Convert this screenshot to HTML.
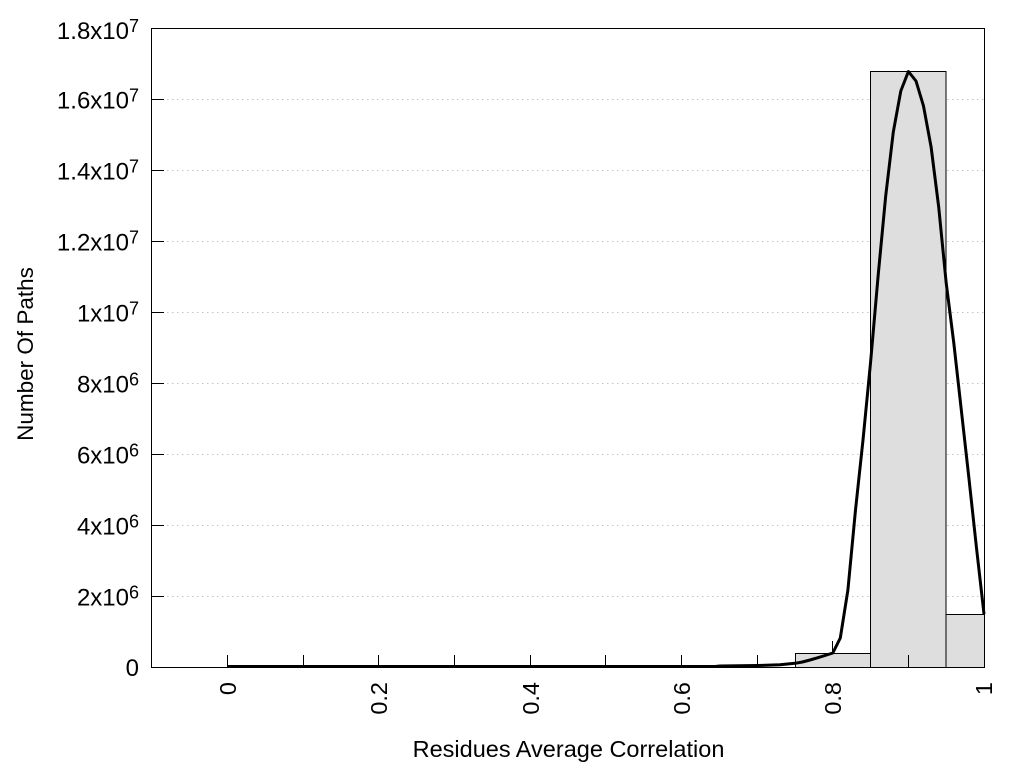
<!DOCTYPE html>
<html>
<head>
<meta charset="utf-8">
<style>
  html, body { margin: 0; padding: 0; background: #ffffff; }
  svg { display: block; }
  text { font-family: "Liberation Sans", Arial, sans-serif; fill: #000; }
</style>
</head>
<body>
<svg width="1024" height="768" viewBox="0 0 1024 768" xmlns="http://www.w3.org/2000/svg">
  <rect x="0" y="0" width="1024" height="768" fill="#ffffff"/>

  <!-- grid lines -->
  <g stroke="#c4c4c4" stroke-width="1" stroke-dasharray="1.5,3.5" fill="none">
    <line x1="152" y1="596.5" x2="984" y2="596.5"/>
    <line x1="152" y1="525.5" x2="984" y2="525.5"/>
    <line x1="152" y1="454.5" x2="984" y2="454.5"/>
    <line x1="152" y1="383.5" x2="984" y2="383.5"/>
    <line x1="152" y1="312.5" x2="984" y2="312.5"/>
    <line x1="152" y1="241.5" x2="984" y2="241.5"/>
    <line x1="152" y1="170.5" x2="984" y2="170.5"/>
    <line x1="152" y1="99.5" x2="984" y2="99.5"/>
  </g>

  <!-- histogram bars -->
  <g fill="#dedede" stroke="#000" stroke-width="1">
    <rect x="795.5" y="653.5" width="75" height="14"/>
    <rect x="870.5" y="71.5" width="75.5" height="596"/>
    <rect x="946" y="614.5" width="38.5" height="53"/>
  </g>

  <!-- plot border -->
  <rect x="151.5" y="28.5" width="833" height="639" fill="none" stroke="#000" stroke-width="1"/>

  <!-- y ticks -->
  <g stroke="#000" stroke-width="1">
    <line x1="152" y1="596.5" x2="164" y2="596.5"/>
    <line x1="152" y1="525.5" x2="164" y2="525.5"/>
    <line x1="152" y1="454.5" x2="164" y2="454.5"/>
    <line x1="152" y1="383.5" x2="164" y2="383.5"/>
    <line x1="152" y1="312.5" x2="164" y2="312.5"/>
    <line x1="152" y1="241.5" x2="164" y2="241.5"/>
    <line x1="152" y1="170.5" x2="164" y2="170.5"/>
    <line x1="152" y1="99.5" x2="164" y2="99.5"/>
  </g>

  <!-- x ticks -->
  <g stroke="#000" stroke-width="1">
    <line x1="227.5" y1="655" x2="227.5" y2="667"/>
    <line x1="303.5" y1="655" x2="303.5" y2="667"/>
    <line x1="378.5" y1="655" x2="378.5" y2="667"/>
    <line x1="454.5" y1="655" x2="454.5" y2="667"/>
    <line x1="530.5" y1="655" x2="530.5" y2="667"/>
    <line x1="605.5" y1="655" x2="605.5" y2="667"/>
    <line x1="681.5" y1="655" x2="681.5" y2="667"/>
    <line x1="757.5" y1="655" x2="757.5" y2="667"/>
    <line x1="832.5" y1="641" x2="832.5" y2="653"/>
    <line x1="908.5" y1="655" x2="908.5" y2="667"/>
  </g>

  <!-- fitted curve -->
  <polyline fill="none" stroke="#000" stroke-width="3" stroke-linejoin="round" stroke-linecap="butt"
    points="228,666.5 715,666.5 720,666 757,665.5 780,664.8 795,663.3 802.4,662 810,660 817.5,657.8 825,655.5 832.8,653
            840.3,638 847.9,590 855.5,510 863,440 870.6,362 878.2,275 885.7,196 893.3,132 900.8,91 908.4,71.5
            916,81 923.5,106 931.1,147 938.7,207 946.2,283 953.8,343 961.3,410 968.9,478 976.5,548 984,614"/>

  <!-- y tick labels -->
  <g font-size="24" text-anchor="end">
    <text x="139" y="676">0</text>
    <text x="139" y="605.5">2x10<tspan font-size="18" dy="-7">6</tspan></text>
    <text x="139" y="534.5">4x10<tspan font-size="18" dy="-7">6</tspan></text>
    <text x="139" y="463.5">6x10<tspan font-size="18" dy="-7">6</tspan></text>
    <text x="139" y="392.5">8x10<tspan font-size="18" dy="-7">6</tspan></text>
    <text x="139" y="321.5">1x10<tspan font-size="18" dy="-7">7</tspan></text>
    <text x="139" y="250.5">1.2x10<tspan font-size="18" dy="-7">7</tspan></text>
    <text x="139" y="179.5">1.4x10<tspan font-size="18" dy="-7">7</tspan></text>
    <text x="139" y="108.5">1.6x10<tspan font-size="18" dy="-7">7</tspan></text>
    <text x="139" y="39">1.8x10<tspan font-size="18" dy="-7">7</tspan></text>
  </g>

  <!-- x tick labels (rotated) -->
  <g font-size="23.5" text-anchor="end">
    <text transform="translate(236,682) rotate(-90)">0</text>
    <text transform="translate(387,682) rotate(-90)">0.2</text>
    <text transform="translate(539,682) rotate(-90)">0.4</text>
    <text transform="translate(690,682) rotate(-90)">0.6</text>
    <text transform="translate(841,682) rotate(-90)">0.8</text>
    <text transform="translate(992,682) rotate(-90)">1</text>
  </g>

  <!-- axis titles -->
  <text x="568.5" y="757" font-size="23.5" text-anchor="middle">Residues Average Correlation</text>
  <text transform="translate(33,354) rotate(-90)" font-size="22.5" text-anchor="middle">Number Of Paths</text>
</svg>
</body>
</html>
